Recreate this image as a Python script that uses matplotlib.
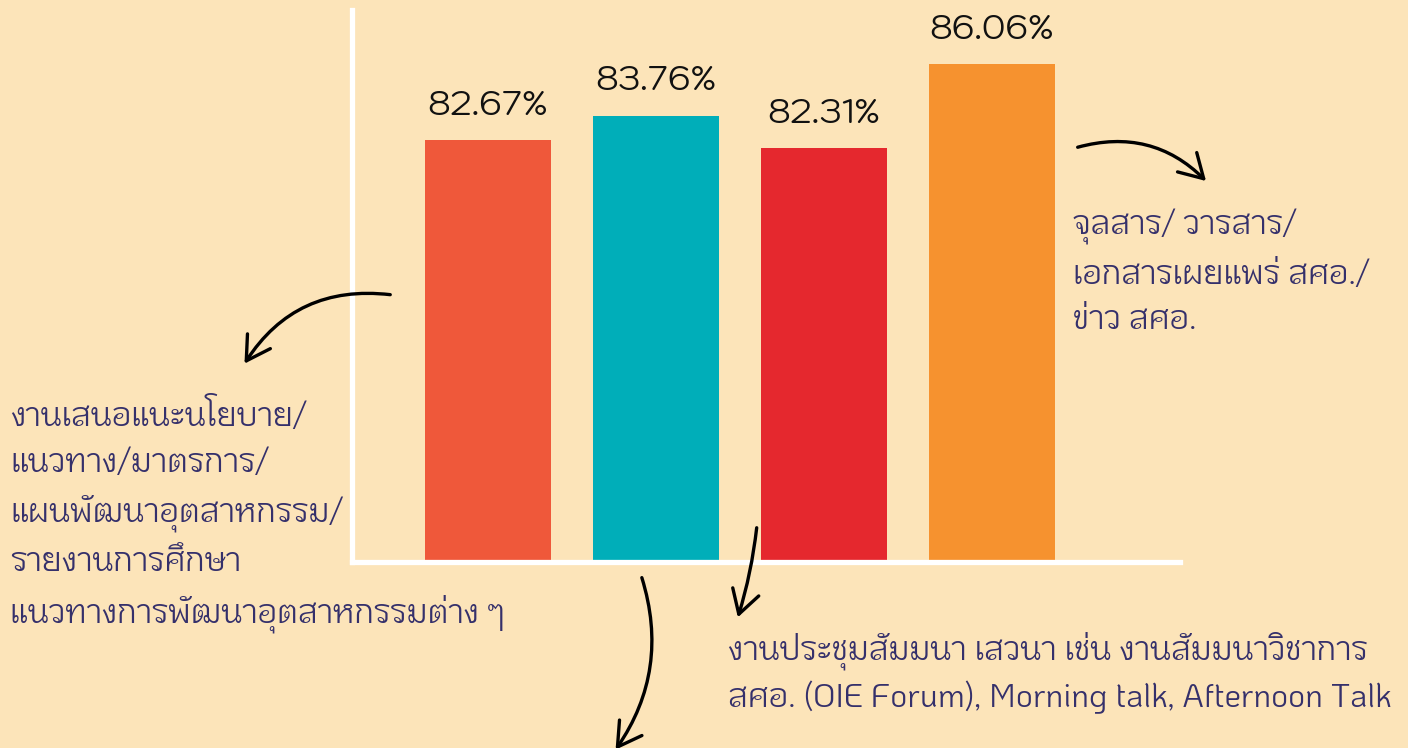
import matplotlib
matplotlib.use("Agg")
import matplotlib.pyplot as plt
from matplotlib.patches import FancyArrowPatch

# data
values = [82.67, 83.76, 82.31, 86.06]
labels = ["82.67%", "83.76%", "82.31%", "86.06%"]
colors = ["#EF583A", "#00AEB9", "#E5282E", "#F6922F"]

notes_left = ("งานเสนอแนะนโยบาย/\nแนวทาง/มาตรการ/\nแผนพัฒนาอุตสาหกรรม/\n"
              "รายงานการศึกษา\nแนวทางการพัฒนาอุตสาหกรรมต่าง ๆ")
notes_right = "จุลสาร/ วารสาร/\nเอกสารเผยแพร่ สศอ./\nข่าว สศอ."
notes_bottom = ("งานประชุมสัมมนา เสวนา เช่น งานสัมมนาวิชาการ\n"
                "สศอ. (OIE Forum), Morning talk, Afternoon Talk")

BG = "#FCE4B9"
NAVY = "#35306B"
W, H = 1408, 748

fig = plt.figure(figsize=(W / 100, H / 100), dpi=100, facecolor=BG)
ax = fig.add_axes([352 / W, 1 - 562 / H, 828 / W, 552 / H])
ax.set_facecolor(BG)

x = range(len(values))
bars = ax.bar(x, values, width=0.75, color=colors, zorder=2)
ax.set_xlim(-0.81, 4.12)
ax.set_ylim(63.85, 88.47)

for b, lab in zip(bars, labels):
    ax.annotate(lab, (b.get_x() + b.get_width() / 2, b.get_height()),
                xytext=(0, 11), textcoords="offset points",
                ha="center", va="bottom", fontsize=25,
                family=["Kodchasan", "DejaVu Sans"], color="#111111")

for s in ["top", "right"]:
    ax.spines[s].set_visible(False)
for s in ["left", "bottom"]:
    ax.spines[s].set_color("white")
    ax.spines[s].set_linewidth(3.8)
    ax.spines[s].set_zorder(3)
ax.set_xticks([])
ax.set_yticks([])


def px(xp, yp):
    return (xp / W, 1 - yp / H)


txt = dict(color=NAVY, family=["KoHo", "DejaVu Sans"], fontsize=23.5,
           va="top", ha="left", linespacing=1.6)
fig.text(*px(10, 397), notes_left, **txt)
fig.text(*px(1073, 209), notes_right, **txt)
txt["linespacing"] = 1.38
fig.text(*px(728, 632), notes_bottom, **txt)


def arrow(a, b, rad):
    p = FancyArrowPatch(px(*a), px(*b), transform=fig.transFigure,
                        connectionstyle="arc3,rad=%s" % rad,
                        arrowstyle="->,head_length=1.2,head_width=0.7",
                        mutation_scale=14, lw=2.4, color="black", zorder=10,
                        capstyle="round", joinstyle="round")
    fig.patches.append(p)


arrow((393, 295), (243, 366), 0.32)
arrow((1075, 148), (1208, 183), -0.3)
arrow((641, 575), (614, 752), -0.25)
arrow((757, 525), (737, 620), -0.05)

fig.savefig("out.png", dpi=100, facecolor=BG)
